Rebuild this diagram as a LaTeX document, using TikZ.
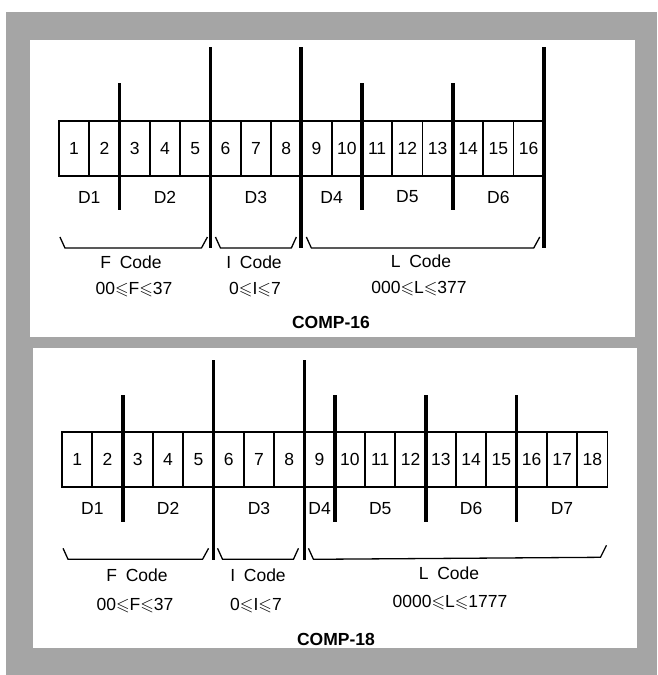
\documentclass[tikz,border=0pt]{standalone}
\usepackage{amssymb}
\usepackage{fontspec}
\setmainfont{Liberation Sans}
\usetikzlibrary{positioning}

\definecolor{framegray}{RGB}{165,165,165}

\tikzset{
  cell/.style={draw, line width=1.8pt, minimum width=30.3pt, minimum height=55pt, inner sep=0pt, outer sep=0pt},
  bar/.style={line width=3.8pt},
  brace/.style={line width=1.3pt, line join=round}
}

\begin{document}
\begin{tikzpicture}[x=1pt, y=-1pt, font=\fontsize{17.5}{20}\selectfont]
  \useasboundingbox (0,0) rectangle (657,675);
  \fill[white] (0,0) rectangle (657,675);
  \fill[framegray] (6,12) rectangle (657,675);
  \fill[white] (30,40) rectangle (635,337);
  \fill[white] (33,348) rectangle (637,648);

  % COMP-16
  \node[cell] (a1) at (74.1,148.5) {1};
  \foreach \i [remember=\i as \j (initially 1)] in {2,...,16}
    \node[cell, right=0pt of a\j] (a\i) {\i};

  \foreach \k in {2,10,13}
    \draw[bar] ([yshift=38pt]a\k.north east) -- ([yshift=-34pt]a\k.south east);
  \foreach \k in {5,8,16}
    \draw[bar] ([yshift=74pt]a\k.north east) -- ([yshift=-72pt]a\k.south east);

  \path (a1.south west) -- (a2.south east) node[midway, yshift=-21pt] (ad1) {D1};
  \path (a3.south west) -- (a5.south east) node[midway, yshift=-21pt] (ad2) {D2};
  \path (a6.south west) -- (a8.south east) node[midway, yshift=-21pt] (ad3) {D3};
  \path (a9.south west) -- (a10.south east) node[midway, yshift=-21pt] (ad4) {D4};
  \path (a11.south west) -- (a13.south east) node[midway, yshift=-21pt] (ad5) {D5};
  \path (a14.south west) -- (a16.south east) node[midway, yshift=-21pt] (ad6) {D6};

  \draw[brace] ([shift={(1,61)}]a1.south west) -- ++(5,11)
    -- ([shift={(-9,72)}]a5.south east) -- ([shift={(-3,61)}]a5.south east);
  \draw[brace] ([shift={(5,61)}]a6.south west) -- ++(5,11)
    -- ([shift={(-10,72)}]a8.south east) -- ([shift={(-5,61)}]a8.south east);
  \draw[brace] ([shift={(5,61)}]a9.south west) -- ++(5,11)
    -- ([shift={(-10,72)}]a16.south east) -- ([shift={(-4,61)}]a16.south east);

  \node (afcode) at (131,262) {F\enspace Code};
  \node (aicode) at (254,262) {I\enspace Code};
  \node (alcode) at (421,261) {L\enspace Code};
  \node (afrange) at (134,290) {00$\leqslant$F$\leqslant$37};
  \node (airange) at (255,290) {0$\leqslant$I$\leqslant$7};
  \node (alrange) at (419,289) {000$\leqslant$L$\leqslant$377};
  \node[font=\fontsize{17.5}{20}\selectfont\bfseries] (atitle) at (331,322) {COMP-16};

  % COMP-18
  \node[cell] (b1) at (77.2,459.8) {1};
  \foreach \i [remember=\i as \j (initially 1)] in {2,...,18}
    \node[cell, right=0pt of b\j] (b\i) {\i};

  \foreach \k in {2,9,12,15}
    \draw[bar] ([yshift=37pt]b\k.north east) -- ([yshift=-35pt]b\k.south east);
  \foreach \k in {5,8}
    \draw[bar] ([yshift=72pt]b\k.north east) -- ([yshift=-73pt]b\k.south east);

  \path (b1.south west) -- (b2.south east) node[midway, yshift=-21pt] (bd1) {D1};
  \path (b3.south west) -- (b5.south east) node[midway, yshift=-21pt] (bd2) {D2};
  \path (b6.south west) -- (b8.south east) node[midway, yshift=-21pt] (bd3) {D3};
  \path (b9.south west) -- (b9.south east) node[midway, yshift=-21pt] (bd4) {D4};
  \path (b10.south west) -- (b12.south east) node[midway, yshift=-21pt] (bd5) {D5};
  \path (b13.south west) -- (b15.south east) node[midway, yshift=-21pt] (bd6) {D6};
  \path (b16.south west) -- (b18.south east) node[midway, yshift=-21pt] (bd7) {D7};

  \draw[brace] ([shift={(1,61)}]b1.south west) -- ++(5,11)
    -- ([shift={(-11,72)}]b5.south east) -- ([shift={(-5,61)}]b5.south east);
  \draw[brace] ([shift={(4,61)}]b6.south west) -- ++(5,11)
    -- ([shift={(-11,72)}]b8.south east) -- ([shift={(-6,61)}]b8.south east);
  \draw[brace] ([shift={(4,61)}]b9.south west) -- ++(5,11)
    -- ([shift={(-7,70)}]b18.south east) -- ([shift={(-1,58)}]b18.south east);

  \node (bfcode) at (137,575) {F\enspace Code};
  \node (bicode) at (258,575) {I\enspace Code};
  \node (blcode) at (449,573) {L\enspace Code};
  \node (bfrange) at (135,606) {00$\leqslant$F$\leqslant$37};
  \node (birange) at (256,606) {0$\leqslant$I$\leqslant$7};
  \node (blrange) at (450,603) {0000$\leqslant$L$\leqslant$1777};
  \node[font=\fontsize{17.5}{20}\selectfont\bfseries] (btitle) at (336,639) {COMP-18};
\end{tikzpicture}
\end{document}
